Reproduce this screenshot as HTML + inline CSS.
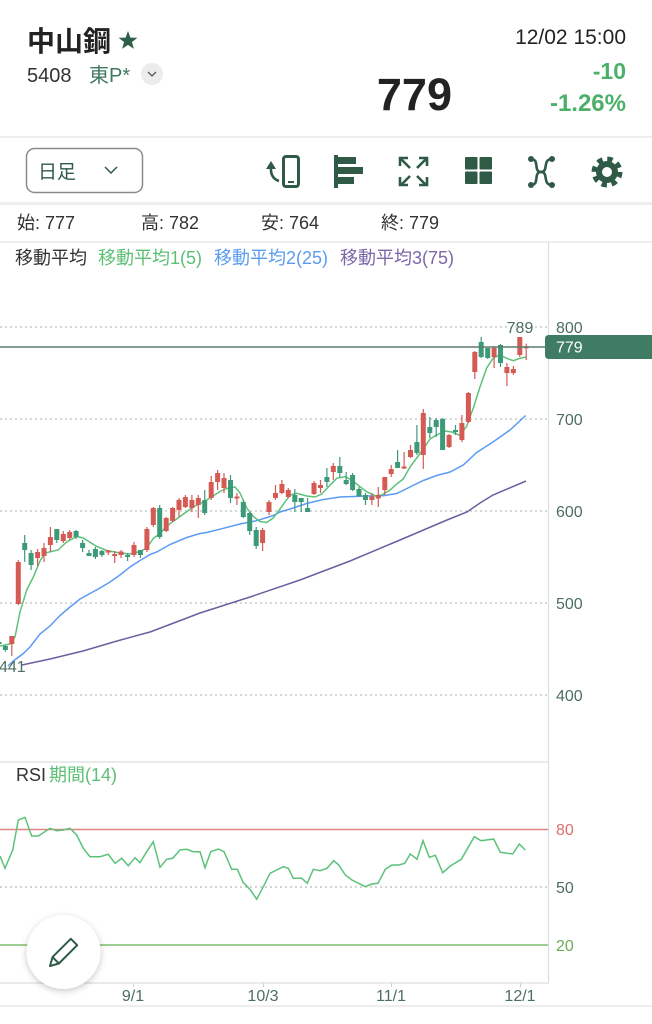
<!DOCTYPE html>
<html><head><meta charset="utf-8">
<style>
html,body{margin:0;padding:0;background:#fff;}
svg{display:block;}
text{font-family:"Liberation Sans","Noto Sans CJK JP",sans-serif;}
</style></head>
<body>
<svg width="652" height="1024" viewBox="0 0 652 1024" xmlns="http://www.w3.org/2000/svg">
<defs>
<filter id="sh" x="-40%" y="-40%" width="180%" height="180%"><feDropShadow dx="0" dy="2" stdDeviation="3.5" flood-color="#000" flood-opacity="0.22"/></filter>
</defs>
<rect width="652" height="1024" fill="#fff"/>

<text x="27" y="51" font-size="28" font-weight="bold" fill="#222">中山鋼</text>
<polygon points="128,31 130.4,37.6 137.4,37.8 131.9,42.1 133.9,48.9 128,44.9 122.1,48.9 124.1,42.1 118.6,37.8 125.6,37.6" fill="#2e5e48"/>
<text x="27" y="82" font-size="20" fill="#333">5408</text>
<text x="89" y="82" font-size="20" fill="#3f7a5f">東P*</text>
<circle cx="152" cy="74" r="11" fill="#ececec"/>
<polyline points="148,72 152,76 156,72" fill="none" stroke="#555" stroke-width="1.3"/>
<text x="452" y="110" font-size="45" font-weight="bold" fill="#222" text-anchor="end">779</text>
<text x="626" y="44" font-size="21" fill="#222" text-anchor="end">12/02 15:00</text>
<text x="626" y="79" font-size="23" font-weight="bold" fill="#4caf6a" text-anchor="end">-10</text>
<text x="626" y="111" font-size="24" font-weight="bold" fill="#4caf6a" text-anchor="end">-1.26%</text>
<rect x="0" y="136" width="652" height="2" fill="#eeeeee"/>

<rect x="26.5" y="148.5" width="116" height="44" rx="8" fill="none" stroke="#8a8a8a" stroke-width="1.5"/>
<text x="38" y="178" font-size="19" fill="#2e5a46">日足</text>
<polyline points="105,167 111,173 117,167" fill="none" stroke="#2e5a46" stroke-width="1.5"/>
<g fill="#2e5a46" stroke="#2e5a46">
 <rect x="283.5" y="156.5" width="15" height="30" rx="2.5" fill="none" stroke-width="3"/>
 <rect x="288" y="181" width="6" height="2" stroke="none"/>
 <path d="M279,181 Q270,178 271,167" fill="none" stroke-width="2.6"/>
 <polygon points="266,169 271,161 276,169" stroke="none"/>
 <rect x="334" y="155" width="4" height="33" stroke="none"/>
 <rect x="338" y="157" width="18" height="7" stroke="none"/>
 <rect x="338" y="167" width="25" height="7" stroke="none"/>
 <rect x="338" y="177" width="16" height="7" stroke="none"/>
 <g fill="none" stroke-width="2.6">
  <line x1="401" y1="159" x2="410" y2="168"/><polyline points="400,166 400,158 408,158"/>
  <line x1="426" y1="159" x2="417" y2="168"/><polyline points="419,158 427,158 427,166"/>
  <line x1="401" y1="185" x2="410" y2="176"/><polyline points="400,177 400,185 408,185"/>
  <line x1="426" y1="185" x2="417" y2="176"/><polyline points="419,185 427,185 427,177"/>
 </g>
 <rect x="465" y="157" width="12.5" height="12.5" rx="1" stroke="none"/>
 <rect x="479.5" y="157" width="12.5" height="12.5" rx="1" stroke="none"/>
 <rect x="465" y="171.5" width="12.5" height="12.5" rx="1" stroke="none"/>
 <rect x="479.5" y="171.5" width="12.5" height="12.5" rx="1" stroke="none"/>
 <path d="M531,159 C540,159 533,172 541,172 C549,172 542,185 552,185" fill="none" stroke-width="2.6"/>
 <path d="M531,185 C540,185 533,172 541,172 C549,172 542,159 552,159" fill="none" stroke-width="2.6"/>
 <circle cx="531" cy="159" r="3" stroke="none"/><circle cx="552" cy="159" r="3" stroke="none"/>
 <circle cx="531" cy="185" r="3" stroke="none"/><circle cx="552" cy="185" r="3" stroke="none"/>
 <circle cx="607" cy="172" r="12.5" fill="none" stroke-width="6" stroke-dasharray="5.2 4.6"/>
 <circle cx="607" cy="172" r="11" stroke="none"/>
 <circle cx="607" cy="172" r="5" fill="#fff" stroke="none"/>
</g>
<rect x="0" y="202" width="652" height="3" fill="#eeeeee"/>

<g font-size="18" fill="#333">
 <text x="17" y="229">始: 777</text>
 <text x="141" y="229">高: 782</text>
 <text x="261" y="229">安: 764</text>
 <text x="381" y="229">終: 779</text>
</g>
<rect x="0" y="241" width="652" height="2" fill="#eeeeee"/>

<g font-size="18">
 <text x="15" y="264" fill="#333">移動平均</text>
 <text x="98" y="264" fill="#5cbf75">移動平均1(5)</text>
 <text x="214" y="264" fill="#5b9cf0">移動平均2(25)</text>
 <text x="340" y="264" fill="#7a68a8">移動平均3(75)</text>
</g>

<line x1="548.5" y1="243" x2="548.5" y2="983" stroke="#d6dfdc" stroke-width="1.2"/>
<line x1="0" y1="762" x2="549" y2="762" stroke="#dfe5e3" stroke-width="1.5"/>
<line x1="0" y1="983" x2="549" y2="983" stroke="#dfe5e3" stroke-width="1.5"/>
<rect x="0" y="1005" width="652" height="2" fill="#eeeeee"/>

<g stroke="#a9b3b0" stroke-width="1" stroke-dasharray="2 3">
 <line x1="0" y1="327" x2="548" y2="327"/>
 <line x1="0" y1="419" x2="548" y2="419"/>
 <line x1="0" y1="511" x2="548" y2="511"/>
 <line x1="0" y1="603" x2="548" y2="603"/>
 <line x1="0" y1="695" x2="548" y2="695"/>
</g>
<g font-size="16" fill="#4d6e62">
 <text x="556" y="333">800</text>
 <text x="556" y="425">700</text>
 <text x="556" y="517">600</text>
 <text x="556" y="609">500</text>
 <text x="556" y="701">400</text>
</g>

<polyline fill="none" stroke="#6d5ea0" stroke-width="1.5" points="22,665 50,659 83,651 117,641 150,632 183,619.5 200,613 250,597 300,580 350,561 400,540 447,520 467,512 480,503 493,495 526,481"/>
<polyline fill="none" stroke="#5b9bf5" stroke-width="1.5" points="8,666 13.3,661 23.3,653.5 30,647 40,634 50,626 60,615.5 70,607 80,599 90,593.5 100,588 110,582 120,575 130,567 140,560.5 150,554.5 156.7,552 170,544.5 186.7,537.5 200,533.5 206.7,532.5 223.3,528.3 240,524 256.7,520.7 273.3,515.5 280,512 290,509 306.7,503.5 323.3,499.5 340,497 366.7,496 383.3,495.7 396.7,493.5 410,487 423.3,480.5 436.7,475.5 450,472 463.3,465 476.7,452.5 493.3,441.7 510,430 525.7,415.5"/>
<polyline fill="none" stroke="#5cc27a" stroke-width="1.5" points="0,646 10,644 15,637 20,612 26.7,590 33.3,577 40,561 45,553 58,550 66.7,542 76.7,536.5 83.3,538 96.7,546.5 106.7,550.5 120,553 130,554 140,551.5 146.7,548 153.3,538.5 160,533.5 166.7,526 180,516.5 193.3,507 206.7,500 220,491.5 226.7,488.5 235,487 240,493 246.7,508 253.3,516.5 260,521.5 266.7,522.5 273.3,518 280,509 290,495 296.7,493.3 306.7,496 315,497 321.7,494 328.3,487 336.7,478.3 345,476.7 351.7,480 360,486.7 366.7,491.7 375,495.7 381.7,495 390,490 396.7,484 403.3,479 410,467 416.7,458 423.3,449 430,439 436.7,435 445,431 451.7,432 460,435.5 466.7,426 473.3,408 480,387 486.7,368 493.3,358 500,355 506.7,358.3 513.3,360.7 520,358.3 525.7,357"/>

<g fill="#3d9a79">
<rect x="-3.5" y="642" width="5" height="2"/><rect x="-1.6" y="641" width="1.2" height="4"/>
<rect x="2.9" y="646" width="5" height="4"/><rect x="4.8" y="645" width="1.2" height="6.7"/>
<rect x="22.2" y="543" width="5" height="7"/><rect x="24.1" y="535" width="1.2" height="27"/>
<rect x="28.6" y="553" width="5" height="12"/><rect x="30.5" y="550" width="1.2" height="20"/>
<rect x="54.3" y="529" width="5" height="11"/><rect x="56.2" y="529" width="1.2" height="14"/>
<rect x="73.6" y="531" width="5" height="6"/><rect x="75.5" y="530" width="1.2" height="9"/>
<rect x="80.1" y="543" width="5" height="5"/><rect x="82" y="540" width="1.2" height="12"/>
<rect x="86.5" y="553" width="5" height="3"/><rect x="88.4" y="550" width="1.2" height="6"/>
<rect x="92.9" y="549" width="5" height="8"/><rect x="94.8" y="547" width="1.2" height="12"/>
<rect x="99.4" y="551" width="5" height="4"/><rect x="101.3" y="550" width="1.2" height="7"/>
<rect x="125.1" y="555" width="5" height="2"/><rect x="127" y="553" width="1.2" height="8"/>
<rect x="137.9" y="550" width="5" height="5"/><rect x="139.8" y="550" width="1.2" height="8"/>
<rect x="157.2" y="508" width="5" height="29"/><rect x="159.1" y="505" width="1.2" height="34"/>
<rect x="202.2" y="500" width="5" height="13"/><rect x="204.1" y="490" width="1.2" height="25"/>
<rect x="228" y="480" width="5" height="18"/><rect x="229.9" y="475" width="1.2" height="28"/>
<rect x="240.8" y="502" width="5" height="15"/><rect x="242.7" y="500" width="1.2" height="18"/>
<rect x="247.2" y="513" width="5" height="18"/><rect x="249.1" y="512" width="1.2" height="23"/>
<rect x="253.7" y="530" width="5" height="16"/><rect x="255.6" y="527" width="1.2" height="22"/>
<rect x="292.3" y="495" width="5" height="7"/><rect x="294.2" y="489" width="1.2" height="23"/>
<rect x="298.7" y="498" width="5" height="4"/><rect x="300.6" y="498" width="1.2" height="14"/>
<rect x="305.1" y="508" width="5" height="4"/><rect x="307" y="498" width="1.2" height="14"/>
<rect x="324.4" y="477" width="5" height="5"/><rect x="326.3" y="468" width="1.2" height="19"/>
<rect x="337.3" y="466" width="5" height="7"/><rect x="339.2" y="457" width="1.2" height="20"/>
<rect x="343.7" y="480" width="5" height="4"/><rect x="345.6" y="472" width="1.2" height="13"/>
<rect x="350.1" y="475" width="5" height="15"/><rect x="352" y="473" width="1.2" height="18"/>
<rect x="356.5" y="489" width="5" height="7"/><rect x="358.4" y="487" width="1.2" height="10"/>
<rect x="363" y="495" width="5" height="5"/><rect x="364.9" y="493" width="1.2" height="12"/>
<rect x="395.1" y="462" width="5" height="6"/><rect x="397" y="450" width="1.2" height="18"/>
<rect x="414.4" y="442" width="5" height="11"/><rect x="416.3" y="425" width="1.2" height="30"/>
<rect x="427.3" y="427" width="5" height="6"/><rect x="429.2" y="417" width="1.2" height="21"/>
<rect x="433.7" y="420" width="5" height="7"/><rect x="435.6" y="418" width="1.2" height="19"/>
<rect x="440.1" y="419" width="5" height="31"/><rect x="442" y="418" width="1.2" height="32"/>
<rect x="453" y="430" width="5" height="2"/><rect x="454.9" y="425" width="1.2" height="10"/>
<rect x="478.7" y="342" width="5" height="15"/><rect x="480.6" y="337" width="1.2" height="21"/>
<rect x="485.2" y="348" width="5" height="10"/><rect x="487.1" y="348" width="1.2" height="11"/>
<rect x="498" y="345" width="5" height="18"/><rect x="499.9" y="344" width="1.2" height="23"/>
</g>
<g fill="#d65a54">
<rect x="9.3" y="636" width="5" height="8"/><rect x="11.2" y="636" width="1.2" height="20"/>
<rect x="15.8" y="562" width="5" height="42"/><rect x="17.7" y="560" width="1.2" height="45"/>
<rect x="35.1" y="552" width="5" height="6"/><rect x="37" y="549" width="1.2" height="17"/>
<rect x="41.5" y="548" width="5" height="8"/><rect x="43.4" y="543" width="1.2" height="19"/>
<rect x="47.9" y="537" width="5" height="8"/><rect x="49.8" y="527" width="1.2" height="25"/>
<rect x="60.8" y="534" width="5" height="7"/><rect x="62.7" y="531" width="1.2" height="12"/>
<rect x="67.2" y="532" width="5" height="6"/><rect x="69.1" y="530" width="1.2" height="10"/>
<rect x="105.8" y="550.5" width="5" height="2"/><rect x="107.7" y="550" width="1.2" height="5"/>
<rect x="112.2" y="554" width="5" height="2"/><rect x="114.1" y="551" width="1.2" height="12"/>
<rect x="118.6" y="551.5" width="5" height="3.5"/><rect x="120.5" y="550" width="1.2" height="8"/>
<rect x="131.5" y="545" width="5" height="10"/><rect x="133.4" y="542" width="1.2" height="15"/>
<rect x="144.4" y="529" width="5" height="21"/><rect x="146.3" y="527" width="1.2" height="25"/>
<rect x="150.8" y="508" width="5" height="17"/><rect x="152.7" y="507" width="1.2" height="20"/>
<rect x="163.7" y="518" width="5" height="13"/><rect x="165.6" y="517" width="1.2" height="15"/>
<rect x="170.1" y="508" width="5" height="13"/><rect x="172" y="507" width="1.2" height="15"/>
<rect x="176.5" y="500" width="5" height="10"/><rect x="178.4" y="498" width="1.2" height="19"/>
<rect x="182.9" y="497" width="5" height="10"/><rect x="184.8" y="495" width="1.2" height="13"/>
<rect x="189.4" y="500" width="5" height="8"/><rect x="191.3" y="495" width="1.2" height="17"/>
<rect x="195.8" y="498" width="5" height="7"/><rect x="197.7" y="495" width="1.2" height="23"/>
<rect x="208.7" y="482" width="5" height="16"/><rect x="210.6" y="476" width="1.2" height="24"/>
<rect x="215.1" y="473" width="5" height="9"/><rect x="217" y="470" width="1.2" height="20"/>
<rect x="221.5" y="478" width="5" height="10"/><rect x="223.4" y="473" width="1.2" height="20"/>
<rect x="234.4" y="496.5" width="5" height="2"/><rect x="236.3" y="493" width="1.2" height="12"/>
<rect x="260.1" y="530" width="5" height="13"/><rect x="262" y="528" width="1.2" height="23"/>
<rect x="266.5" y="502" width="5" height="10"/><rect x="268.4" y="500" width="1.2" height="15"/>
<rect x="273" y="493" width="5" height="5"/><rect x="274.9" y="485" width="1.2" height="15"/>
<rect x="279.4" y="484" width="5" height="9"/><rect x="281.3" y="480" width="1.2" height="14"/>
<rect x="285.8" y="490" width="5" height="7"/><rect x="287.7" y="488" width="1.2" height="10"/>
<rect x="311.5" y="483" width="5" height="11"/><rect x="313.4" y="481" width="1.2" height="14"/>
<rect x="318" y="485" width="5" height="3"/><rect x="319.9" y="480" width="1.2" height="13"/>
<rect x="330.8" y="466" width="5" height="6"/><rect x="332.7" y="463" width="1.2" height="17"/>
<rect x="369.4" y="496.5" width="5" height="3.5"/><rect x="371.3" y="493" width="1.2" height="12"/>
<rect x="375.8" y="495" width="5" height="3.5"/><rect x="377.7" y="487" width="1.2" height="20"/>
<rect x="382.3" y="477" width="5" height="13"/><rect x="384.2" y="477" width="1.2" height="18"/>
<rect x="388.7" y="469" width="5" height="5"/><rect x="390.6" y="465" width="1.2" height="12"/>
<rect x="401.6" y="466.5" width="5" height="2"/><rect x="403.5" y="452" width="1.2" height="17"/>
<rect x="408" y="450" width="5" height="7"/><rect x="409.9" y="445" width="1.2" height="13"/>
<rect x="420.8" y="413" width="5" height="42"/><rect x="422.7" y="409" width="1.2" height="60"/>
<rect x="446.6" y="435" width="5" height="12"/><rect x="448.5" y="434" width="1.2" height="14"/>
<rect x="459.4" y="423" width="5" height="17"/><rect x="461.3" y="415" width="1.2" height="27"/>
<rect x="465.9" y="393" width="5" height="29"/><rect x="467.8" y="392" width="1.2" height="31"/>
<rect x="472.3" y="352" width="5" height="20"/><rect x="474.2" y="351" width="1.2" height="28"/>
<rect x="491.6" y="348" width="5" height="9"/><rect x="493.5" y="346" width="1.2" height="22"/>
<rect x="504.4" y="367" width="5" height="6"/><rect x="506.3" y="363" width="1.2" height="23"/>
<rect x="510.9" y="369" width="5" height="4"/><rect x="512.8" y="366" width="1.2" height="9"/>
<rect x="517.3" y="337" width="5" height="18"/><rect x="519.2" y="337" width="1.2" height="20"/>
<rect x="523.7" y="346.3" width="5" height="2"/><rect x="525.6" y="343.6" width="1.2" height="16.5"/>
</g>

<line x1="0" y1="347" x2="546" y2="347" stroke="#5b7b6d" stroke-width="1.6"/>
<path d="M549,335 H652 V359 H549 Q545,359 545,355 V339 Q545,335 549,335 Z" fill="#3f7c63"/>
<text x="556" y="352.5" font-size="16" fill="#fff">779</text>
<text x="520" y="333" font-size="16" fill="#4d6e62" text-anchor="middle">789</text>
<text x="-1" y="672" font-size="16" fill="#4d6e62">441</text>

<text x="16" y="781" font-size="18" fill="#333">RSI</text>
<text x="49" y="781" font-size="18" fill="#5cbf75">期間(14)</text>
<line x1="0" y1="829.5" x2="548" y2="829.5" stroke="#e08585" stroke-width="1.6"/>
<line x1="0" y1="887" x2="548" y2="887" stroke="#a0a8a6" stroke-width="1" stroke-dasharray="2 3"/>
<line x1="0" y1="945" x2="548" y2="945" stroke="#7fbd6d" stroke-width="1.6"/>
<text x="556" y="835" font-size="16" fill="#d9706f">80</text>
<text x="556" y="893" font-size="16" fill="#4d6e62">50</text>
<text x="556" y="951" font-size="16" fill="#6aab58">20</text>
<polyline fill="none" stroke="#5cc27a" stroke-width="1.5" points="0,856 5,868.3 12.7,850 18.3,820 25,817.3 31.7,836 38.3,836 50,828.3 56.7,830.7 63.3,830 70,828.3 76.7,835 83.3,848.3 90,856.7 100,856.7 108.3,854.3 115,863.3 121.7,858.3 128.3,865.7 135,857.7 140,862.7 146.7,851.7 153.3,841.7 160,867.3 166.7,859.3 172.7,858.3 180,850 186.7,849.3 193.3,851.7 200,851.7 205,867.7 210.7,851.7 218.3,849 224,851.7 231.7,869.3 237.3,869.3 243.3,882.7 250,889.3 256.7,899.3 263.3,886.7 270,873.3 276.7,870 283.3,866.7 288.3,868.3 293.3,878.3 301.7,878.3 307.3,883.3 313.3,869.3 320,870.7 327,868.3 333.7,860.7 338.7,865 345.3,875 352,880 358.7,883.3 365.3,886.7 372,884 378,883.3 385.3,869.3 392,865 398.7,865 404.7,863.3 410.3,854 417,859.3 423,840.7 429.3,857.3 435.3,855.3 442.7,872.7 450.3,866 461.3,859.3 474.3,836.7 481,840.7 493.7,839 500.3,852.3 512.7,854 519.3,844 525.3,850"/>

<g stroke="#c9d3d0" stroke-width="1">
 <line x1="133.5" y1="983" x2="133.5" y2="987"/>
 <line x1="263.5" y1="983" x2="263.5" y2="987"/>
 <line x1="391.5" y1="983" x2="391.5" y2="987"/>
 <line x1="520.5" y1="983" x2="520.5" y2="987"/>
</g>
<g font-size="16" fill="#4d6e62" text-anchor="middle">
 <text x="133" y="1001">9/1</text>
 <text x="263" y="1001">10/3</text>
 <text x="391" y="1001">11/1</text>
 <text x="520" y="1001">12/1</text>
</g>

<circle cx="63.5" cy="952" r="37" fill="#fff" filter="url(#sh)"/>
<g fill="none" stroke="#2e5a46" stroke-width="2" stroke-linejoin="round">
 <path d="M50,966 L52.5,957.1 L70.8,938.8 L77.2,945.2 L58.9,963.5 Z"/>
 <line x1="52.5" y1="957.1" x2="58.9" y2="963.5"/>
</g>
</svg>
</body></html>
